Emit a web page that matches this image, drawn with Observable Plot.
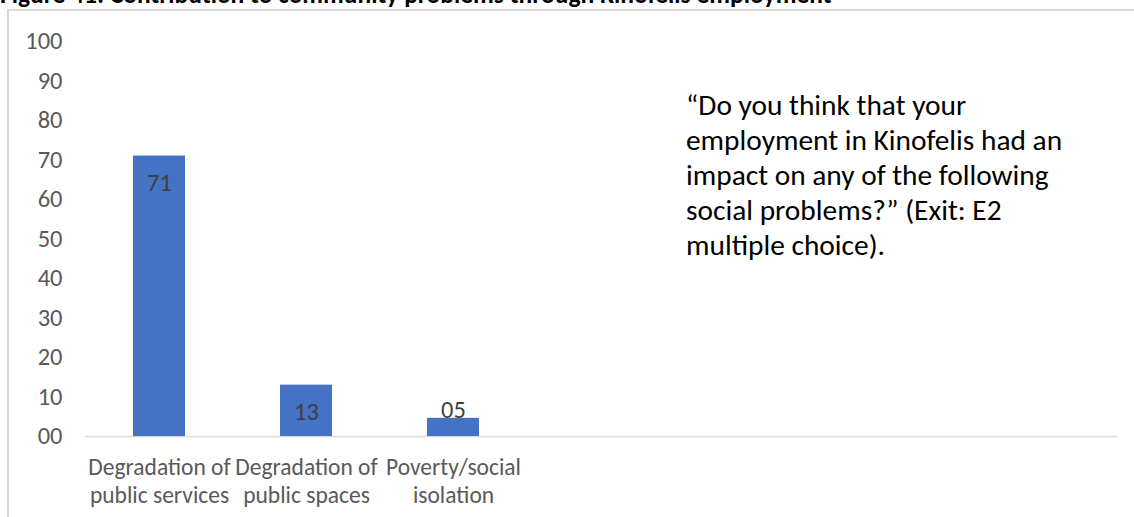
<!DOCTYPE html>
<html>
<head>
<meta charset="utf-8">
<script src="https://cdn.jsdelivr.net/npm/d3@7"></script>
<script src="https://cdn.jsdelivr.net/npm/@observablehq/plot@0.6"></script>
<style>
  html, body { margin: 0; padding: 0; background: #fff; }
  #wrap { position: relative; width: 1134px; height: 517px; overflow: hidden; background: #fff;
          font-family: Calibri, Carlito, Lato, sans-serif; }
  #title { position: absolute; left: 0; top: -18.5px; font-weight: bold; font-size: 25.5px; line-height: 25.5px;
           white-space: nowrap; color: #000; }
  #frame { position: absolute; left: 7px; top: 9px; width: 1200px; height: 600px;
           border-left: 2px solid #d9d9d9; border-top: 2px solid #d9d9d9; }
  #chart { position: absolute; left: 0; top: 0; }
  #note { position: absolute; left: 686px; top: 88px; font-size: 29.4px; line-height: 35px; color: #000;
          white-space: nowrap; }
</style>
</head>
<body>
<div id="wrap">
  <div id="frame"></div>
  <div id="title"></div>
  <div id="chart"></div>
  <div id="note"></div>
</div>
<script>
const titleText = "Figure 41: Contribution to community problems through Kinofelis employment";
const categories = ["Degradation of public services", "Degradation of public spaces", "Poverty/social isolation"];
const tickLabels = ["Degradation of\npublic services", "Degradation of\npublic spaces", "Poverty/social\nisolation"];
const values = [71, 13, 4.6];
const yTicks = [0, 10, 20, 30, 40, 50, 60, 70, 80, 90, 100];
const noteLines = [
  "\u201CDo you think that your",
  "employment in Kinofelis had an",
  "impact on any of the following",
  "social problems?\u201D (Exit: E2",
  "multiple choice)."
];

const data = categories.map((c, i) => ({category: c, value: values[i]}));
const fmt = d3.format("02.0f");
const font = "Calibri, Carlito, Lato, sans-serif";

document.getElementById("title").textContent = titleText;
const note = document.getElementById("note");
noteLines.forEach(l => { const d = document.createElement("div"); d.textContent = l; note.appendChild(d); });

const chart = Plot.plot({
  width: 1134,
  height: 517,
  marginLeft: 85,
  marginRight: 16,
  marginTop: 41,
  marginBottom: 81,
  style: {fontFamily: font, background: "transparent", overflow: "visible"},
  x: {domain: categories, range: [85, 527.5], paddingInner: 0.647, paddingOuter: 0.3235, axis: null},
  y: {domain: [0, 100], axis: null},
  marks: [
    Plot.ruleY([0], {stroke: "#d9d9d9", strokeWidth: 1.5}),
    Plot.barY(data, {x: "category", y: "value", fill: "#4472C4"}),
    Plot.axisY({ticks: yTicks, tickSize: 0, tickPadding: 23, tickFormat: d3.format("02d"),
                fontSize: 24.5, fill: "#595959", label: null}),
    Plot.axisX({tickSize: 0, tickPadding: 19, fontSize: 23.5, lineHeight: 1.19, fill: "#595959", label: null,
                tickFormat: d => tickLabels[categories.indexOf(d)]}),
    Plot.text(data.filter(d => d.value >= 10), {x: "category", y: "value", text: d => fmt(d.value),
                dy: 27, fontSize: 24.5, fill: "#404040"}),
    Plot.text(data.filter(d => d.value < 10), {x: "category", y: "value", text: d => fmt(d.value),
                dy: -8, fontSize: 24.5, fill: "#404040"})
  ]
});
document.getElementById("chart").appendChild(chart);
</script>
</body>
</html>
